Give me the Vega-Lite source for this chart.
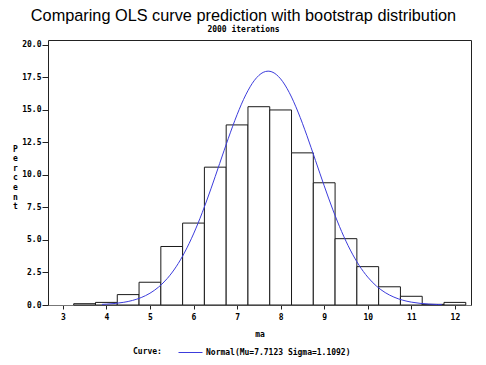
{
  "$schema": "https://vega.github.io/schema/vega-lite/v6.json",
  "width": 423,
  "height": 265,
  "autosize": {"type": "none"},
  "padding": {"left": 48, "top": 40, "right": 15, "bottom": 60},
  "title": {
    "text": "Comparing OLS curve prediction with bootstrap distribution",
    "subtitle": "2000 iterations",
    "font": "Liberation Sans",
    "fontSize": 16.3,
    "fontWeight": "normal",
    "color": "black",
    "subtitleFont": "DejaVu Sans Mono",
    "subtitleFontSize": 8,
    "subtitleFontWeight": "bold",
    "subtitleColor": "black",
    "subtitlePadding": 2,
    "anchor": "middle",
    "dx": -16,
    "offset": 6
  },
  "config": {
    "view": {"stroke": "#222", "strokeWidth": 1},
    "axis": {
      "grid": false,
      "labelFont": "DejaVu Sans Mono",
      "labelFontSize": 8,
      "labelFontWeight": "bold",
      "labelColor": "black",
      "titleFont": "DejaVu Sans Mono",
      "titleFontSize": 8,
      "titleFontWeight": "bold",
      "titleColor": "black",
      "tickColor": "#222",
      "domainColor": "#777"
    },
    "legend": {
      "labelFont": "DejaVu Sans Mono",
      "labelFontSize": 8,
      "labelFontWeight": "bold",
      "labelColor": "black",
      "titleFont": "DejaVu Sans Mono",
      "titleFontSize": 8,
      "titleFontWeight": "bold",
      "titleColor": "black"
    }
  },
  "datasets": {
    "bars": [
      {"bin_start": 3.25, "bin_end": 3.75, "percent": 0.1},
      {"bin_start": 3.75, "bin_end": 4.25, "percent": 0.2},
      {"bin_start": 4.25, "bin_end": 4.75, "percent": 0.8},
      {"bin_start": 4.75, "bin_end": 5.25, "percent": 1.75},
      {"bin_start": 5.25, "bin_end": 5.75, "percent": 4.5},
      {"bin_start": 5.75, "bin_end": 6.25, "percent": 6.3},
      {"bin_start": 6.25, "bin_end": 6.75, "percent": 10.6},
      {"bin_start": 6.75, "bin_end": 7.25, "percent": 13.85},
      {"bin_start": 7.25, "bin_end": 7.75, "percent": 15.25},
      {"bin_start": 7.75, "bin_end": 8.25, "percent": 15.0},
      {"bin_start": 8.25, "bin_end": 8.75, "percent": 11.7},
      {"bin_start": 8.75, "bin_end": 9.25, "percent": 9.4},
      {"bin_start": 9.25, "bin_end": 9.75, "percent": 5.1},
      {"bin_start": 9.75, "bin_end": 10.25, "percent": 2.95},
      {"bin_start": 10.25, "bin_end": 10.75, "percent": 1.4},
      {"bin_start": 10.75, "bin_end": 11.25, "percent": 0.67},
      {"bin_start": 11.25, "bin_end": 11.75, "percent": 0.05},
      {"bin_start": 11.75, "bin_end": 12.25, "percent": 0.2}
    ],
    "curve": [
      {"ma": 3.9, "percent": 0.049, "curve": "Normal(Mu=7.7123 Sigma=1.1092)"},
      {"ma": 4.0, "percent": 0.067, "curve": "Normal(Mu=7.7123 Sigma=1.1092)"},
      {"ma": 4.2, "percent": 0.12, "curve": "Normal(Mu=7.7123 Sigma=1.1092)"},
      {"ma": 4.4, "percent": 0.208, "curve": "Normal(Mu=7.7123 Sigma=1.1092)"},
      {"ma": 4.6, "percent": 0.351, "curve": "Normal(Mu=7.7123 Sigma=1.1092)"},
      {"ma": 4.8, "percent": 0.573, "curve": "Normal(Mu=7.7123 Sigma=1.1092)"},
      {"ma": 5.0, "percent": 0.904, "curve": "Normal(Mu=7.7123 Sigma=1.1092)"},
      {"ma": 5.2, "percent": 1.383, "curve": "Normal(Mu=7.7123 Sigma=1.1092)"},
      {"ma": 5.4, "percent": 2.047, "curve": "Normal(Mu=7.7123 Sigma=1.1092)"},
      {"ma": 5.6, "percent": 2.934, "curve": "Normal(Mu=7.7123 Sigma=1.1092)"},
      {"ma": 5.8, "percent": 4.069, "curve": "Normal(Mu=7.7123 Sigma=1.1092)"},
      {"ma": 6.0, "percent": 5.463, "curve": "Normal(Mu=7.7123 Sigma=1.1092)"},
      {"ma": 6.2, "percent": 7.099, "curve": "Normal(Mu=7.7123 Sigma=1.1092)"},
      {"ma": 6.4, "percent": 8.932, "curve": "Normal(Mu=7.7123 Sigma=1.1092)"},
      {"ma": 6.6, "percent": 10.877, "curve": "Normal(Mu=7.7123 Sigma=1.1092)"},
      {"ma": 6.8, "percent": 12.823, "curve": "Normal(Mu=7.7123 Sigma=1.1092)"},
      {"ma": 7.0, "percent": 14.633, "curve": "Normal(Mu=7.7123 Sigma=1.1092)"},
      {"ma": 7.2, "percent": 16.164, "curve": "Normal(Mu=7.7123 Sigma=1.1092)"},
      {"ma": 7.4, "percent": 17.285, "curve": "Normal(Mu=7.7123 Sigma=1.1092)"},
      {"ma": 7.6, "percent": 17.892, "curve": "Normal(Mu=7.7123 Sigma=1.1092)"},
      {"ma": 7.7123, "percent": 17.984, "curve": "Normal(Mu=7.7123 Sigma=1.1092)"},
      {"ma": 7.8, "percent": 17.928, "curve": "Normal(Mu=7.7123 Sigma=1.1092)"},
      {"ma": 8.0, "percent": 17.389, "curve": "Normal(Mu=7.7123 Sigma=1.1092)"},
      {"ma": 8.2, "percent": 16.327, "curve": "Normal(Mu=7.7123 Sigma=1.1092)"},
      {"ma": 8.4, "percent": 14.839, "curve": "Normal(Mu=7.7123 Sigma=1.1092)"},
      {"ma": 8.6, "percent": 13.056, "curve": "Normal(Mu=7.7123 Sigma=1.1092)"},
      {"ma": 8.8, "percent": 11.119, "curve": "Normal(Mu=7.7123 Sigma=1.1092)"},
      {"ma": 9.0, "percent": 9.167, "curve": "Normal(Mu=7.7123 Sigma=1.1092)"},
      {"ma": 9.2, "percent": 7.316, "curve": "Normal(Mu=7.7123 Sigma=1.1092)"},
      {"ma": 9.4, "percent": 5.652, "curve": "Normal(Mu=7.7123 Sigma=1.1092)"},
      {"ma": 9.6, "percent": 4.226, "curve": "Normal(Mu=7.7123 Sigma=1.1092)"},
      {"ma": 9.8, "percent": 3.06, "curve": "Normal(Mu=7.7123 Sigma=1.1092)"},
      {"ma": 10.0, "percent": 2.144, "curve": "Normal(Mu=7.7123 Sigma=1.1092)"},
      {"ma": 10.2, "percent": 1.454, "curve": "Normal(Mu=7.7123 Sigma=1.1092)"},
      {"ma": 10.4, "percent": 0.955, "curve": "Normal(Mu=7.7123 Sigma=1.1092)"},
      {"ma": 10.6, "percent": 0.607, "curve": "Normal(Mu=7.7123 Sigma=1.1092)"},
      {"ma": 10.8, "percent": 0.373, "curve": "Normal(Mu=7.7123 Sigma=1.1092)"},
      {"ma": 11.0, "percent": 0.222, "curve": "Normal(Mu=7.7123 Sigma=1.1092)"},
      {"ma": 11.2, "percent": 0.128, "curve": "Normal(Mu=7.7123 Sigma=1.1092)"},
      {"ma": 11.4, "percent": 0.072, "curve": "Normal(Mu=7.7123 Sigma=1.1092)"},
      {"ma": 11.6, "percent": 0.039, "curve": "Normal(Mu=7.7123 Sigma=1.1092)"},
      {"ma": 11.7, "percent": 0.028, "curve": "Normal(Mu=7.7123 Sigma=1.1092)"}
    ]
  },
  "encoding": {
    "y": {
      "field": "percent",
      "type": "quantitative",
      "scale": {"domain": [0, 20.38], "nice": false},
      "axis": {
        "title": ["P", "e", "r", "c", "e", "n", "t"],
        "titleAngle": 0,
        "titleAlign": "center",
        "titleBaseline": "top",
        "titleX": -33,
        "titleY": 105,
        "titleLineHeight": 9.6,
        "values": [0, 2.5, 5, 7.5, 10, 12.5, 15, 17.5, 20],
        "format": ".1f",
        "tickSize": 6,
        "labelPadding": 1,
        "labelOverlap": false,
        "labelFlush": false,
        "domain": false
      }
    }
  },
  "layer": [
    {
      "data": {"name": "bars"},
      "mark": {"type": "rect", "fill": "white", "stroke": "#1a1a1a", "strokeWidth": 1},
      "encoding": {
        "x": {
          "field": "bin_start",
          "type": "quantitative",
          "scale": {"domain": [2.66, 12.37], "nice": false, "zero": false},
          "axis": {
            "title": "ma",
            "values": [3, 3.5, 4, 4.5, 5, 5.5, 6, 6.5, 7, 7.5, 8, 8.5, 9, 9.5, 10, 10.5, 11, 11.5, 12],
            "labelExpr": "datum.value % 1 === 0 ? format(datum.value, 'd') : ''",
            "tickSize": 4,
            "labelPadding": 4,
            "titlePadding": 9,
            "labelFlush": false,
            "labelOverlap": false
          }
        },
        "x2": {"field": "bin_end"},
        "y2": {"datum": 0}
      }
    },
    {
      "data": {"name": "curve"},
      "mark": {"type": "line", "strokeWidth": 1, "interpolate": "monotone"},
      "encoding": {
        "x": {"field": "ma", "type": "quantitative"},
        "color": {
          "field": "curve",
          "type": "nominal",
          "scale": {"range": ["#3c3cdc"]},
          "legend": {
            "title": "Curve:",
            "titleOrient": "left",
            "titleBaseline": "top",
            "titlePadding": 16,
            "orient": "none",
            "legendX": 85,
            "legendY": 300,
            "symbolType": "stroke",
            "symbolSize": 576,
            "symbolStrokeWidth": 1,
            "labelOffset": 3
          }
        }
      }
    }
  ]
}
